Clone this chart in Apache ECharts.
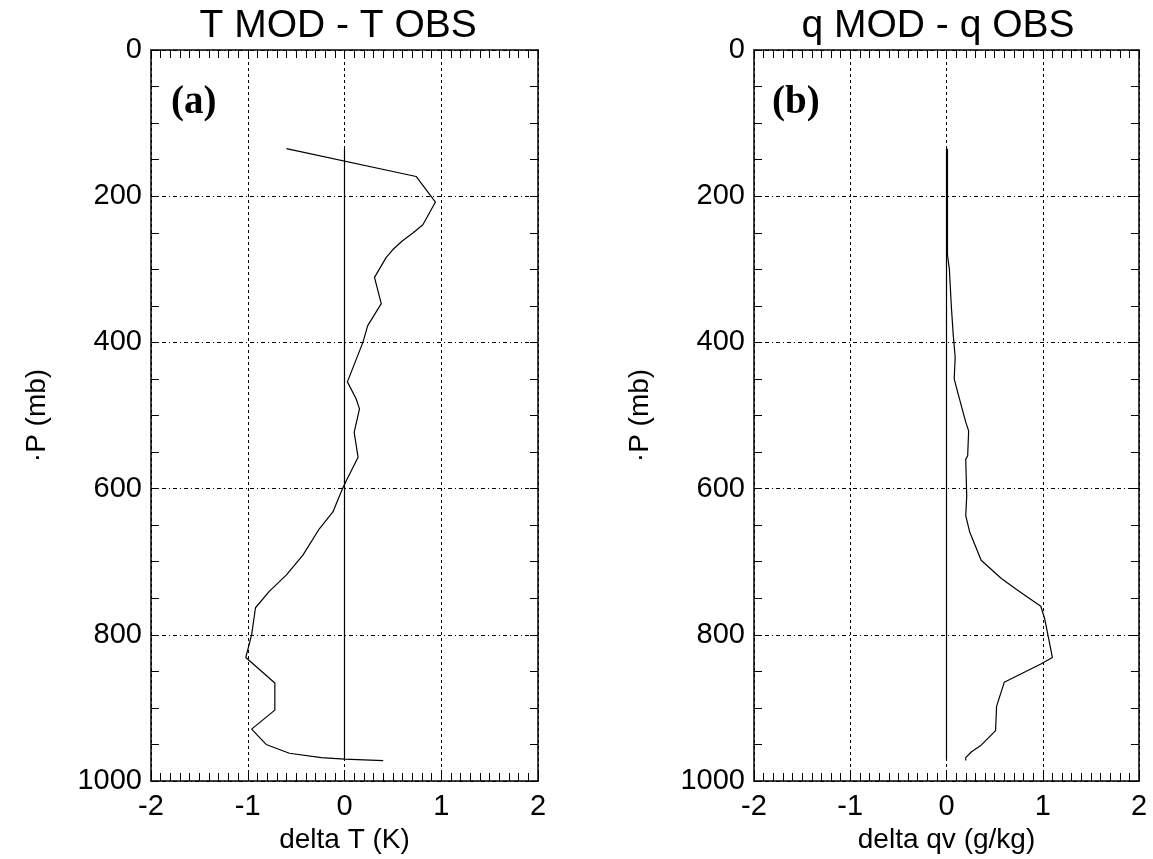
<!DOCTYPE html>
<html>
<head>
<meta charset="utf-8">
<script src="https://cdn.jsdelivr.net/npm/echarts@6/dist/echarts.min.js"></script>
<style>
  html, body { margin: 0; padding: 0; background: #fff; }
  #chart { width: 1153px; height: 859px; }
</style>
</head>
<body>
<div id="chart"></div>
<script>
// panel (a): T MOD - T OBS, pressure levels (mb) and delta T (K)
var tPres = [135, 173, 208, 239, 250, 261, 273, 284, 311, 347, 377, 400, 454, 477, 491, 523, 557, 589, 600, 632, 655, 691, 718, 741, 763, 800, 831, 866, 903, 929, 950, 962, 968, 970, 972]
var tDelta = [-0.60, 0.74, 0.94, 0.81, 0.71, 0.60, 0.50, 0.43, 0.31, 0.38, 0.24, 0.19, 0.03, 0.12, 0.155, 0.10, 0.14, 0.02, -0.02, -0.12, -0.26, -0.43, -0.60, -0.78, -0.92, -0.96, -1.02, -0.72, -0.72, -0.96, -0.81, -0.57, -0.24, 0.0, 0.40]

// panel (b): q MOD - q OBS, delta qv (g/kg)
var qPres = [135, 280, 300, 350, 390, 420, 450, 470, 509, 521, 555, 560, 610, 637, 659, 698, 723, 740, 761, 778, 831, 840, 865, 898, 931, 951, 960, 968, 972]
var qDelta = [0.01, 0.01, 0.03, 0.05, 0.07, 0.09, 0.08, 0.12, 0.20, 0.23, 0.22, 0.20, 0.21, 0.20, 0.24, 0.36, 0.57, 0.75, 0.98, 1.02, 1.10, 0.98, 0.60, 0.52, 0.51, 0.36, 0.26, 0.20, 0.20]

// zero reference line
var zeroPres = [135, 970]
var zeroDelta = [0, 0]

var titles = ['T MOD - T OBS', 'q MOD - q OBS']
var panelTags = ['(a)', '(b)']
var xNames = ['delta T (K)', 'delta qv (g/kg)']
var yName = '·P (mb)'

var chart = echarts.init(document.getElementById('chart'))

var font = 'Liberation Sans, Arial, sans-serif'

function pairs(xs, ys) {
  return xs.map(function (x, i) { return [x, ys[i]] })
}

function xAxis(gi, pos) {
  var bottom = pos === 'bottom'
  return {
    gridIndex: gi,
    type: 'value',
    position: pos,
    min: -2,
    max: 2,
    interval: 1,
    name: bottom ? xNames[gi] : '',
    nameLocation: 'middle',
    nameGap: 45,
    nameTextStyle: { color: '#000', fontSize: 28, fontFamily: font },
    axisLine: { show: true, onZero: false, lineStyle: { color: '#000', width: 1.5 } },
    axisTick: { show: true, inside: true, length: 8, lineStyle: { color: '#000', width: 1 } },
    minorTick: { show: true, splitNumber: 10, length: 8, lineStyle: { color: '#000', width: 1 } },
    axisLabel: { show: bottom, color: '#000', fontSize: 29, fontFamily: font, margin: 11 },
    splitLine: { show: bottom, lineStyle: { color: '#000', width: 1, type: [3, 3] } }
  }
}

function yAxis(gi, pos) {
  var left = pos === 'left'
  return {
    gridIndex: gi,
    type: 'value',
    position: pos,
    inverse: true,
    min: 0,
    max: 1000,
    interval: 200,
    name: left ? yName : '',
    nameLocation: 'middle',
    nameGap: 100,
    nameTextStyle: { color: '#000', fontSize: 28, fontFamily: font },
    axisLine: { show: true, onZero: false, lineStyle: { color: '#000', width: 1.5 } },
    axisTick: { show: true, inside: true, length: 8, lineStyle: { color: '#000', width: 1 } },
    minorTick: { show: true, splitNumber: 4, length: 8, lineStyle: { color: '#000', width: 1 } },
    axisLabel: {
      show: left, color: '#000', fontSize: 29, fontFamily: font, margin: 9,
      formatter: function (v) { return String(v) }
    },
    splitLine: { show: left, lineStyle: { color: '#000', width: 1, type: [4, 3, 1, 3] } }
  }
}

function lineSeries(idx, xs, ys) {
  return {
    type: 'line',
    xAxisIndex: idx * 2,
    yAxisIndex: idx * 2,
    data: pairs(xs, ys),
    showSymbol: false,
    symbol: 'none',
    animation: false,
    lineStyle: { color: '#000', width: 1.2 }
  }
}

var centers = [344.5, 946.5]

var option = {
  backgroundColor: '#fff',
  animation: false,
  grid: [
    { left: 151, right: 615, top: 50, bottom: 76 },
    { left: 754, right: 14, top: 50, bottom: 76 }
  ],
  xAxis: [xAxis(0, 'bottom'), xAxis(0, 'top'), xAxis(1, 'bottom'), xAxis(1, 'top')],
  yAxis: [yAxis(0, 'left'), yAxis(0, 'right'), yAxis(1, 'left'), yAxis(1, 'right')],
  graphic: [0, 1].map(function (i) {
    return {
      type: 'text',
      left: centers[i] - 145,
      top: 7,
      style: { text: titles[i], font: '39px ' + font, fill: '#000', width: 290, align: 'center' }
    }
  }).concat([0, 1].map(function (i) {
    return {
      type: 'text',
      left: i === 0 ? 171 : 772,
      top: 83,
      style: { text: panelTags[i], font: 'bold 39px Liberation Serif, Times New Roman, serif', fill: '#000' }
    }
  })),
  series: [
    lineSeries(0, zeroDelta, zeroPres),
    lineSeries(0, tDelta, tPres),
    lineSeries(1, zeroDelta, zeroPres),
    lineSeries(1, qDelta, qPres)
  ]
}

chart.setOption(option)
</script>
</body>
</html>
